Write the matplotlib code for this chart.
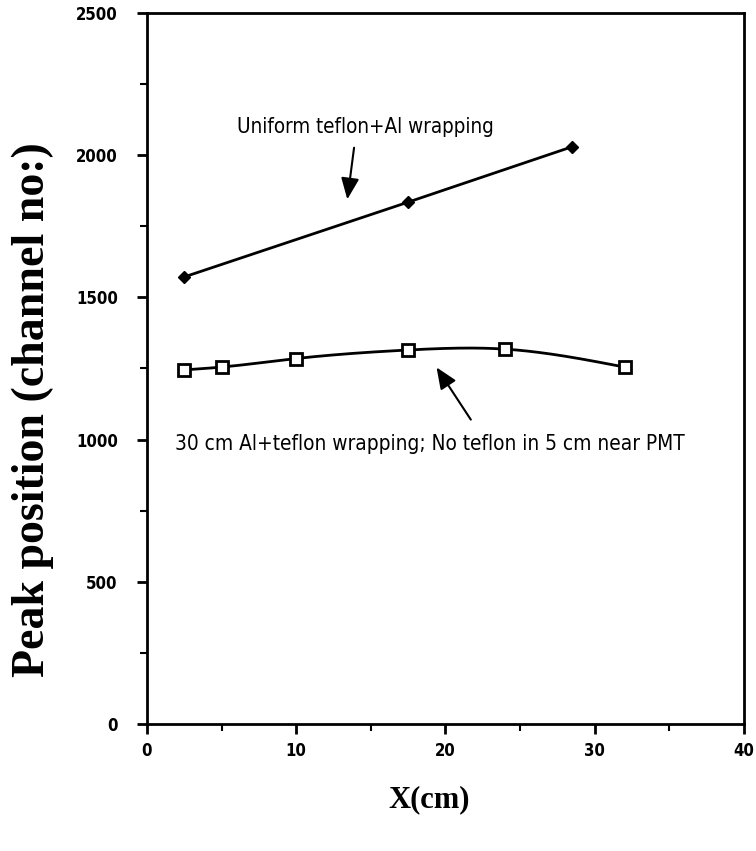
import numpy as np
import matplotlib
matplotlib.use('Agg')
import matplotlib.pyplot as plt
from matplotlib.ticker import MultipleLocator

# data
x_uniform = [2.5, 17.5, 28.5]
y_uniform = [1572, 1835, 2030]

x_partial = [2.5, 5.0, 10.0, 17.5, 24.0, 32.0]
y_partial = [1245, 1255, 1285, 1315, 1318, 1255]

label_uniform = 'Uniform teflon+Al wrapping'
label_partial = '30 cm Al+teflon wrapping; No teflon in 5 cm near PMT'


def smooth(x, y, n=200):
    # natural cubic spline, only to draw the curve the way the original does
    x = np.asarray(x, float)
    y = np.asarray(y, float)
    k = len(x)
    h = np.diff(x)
    A = np.zeros((k, k))
    b = np.zeros(k)
    A[0, 0] = A[-1, -1] = 1
    for i in range(1, k - 1):
        A[i, i - 1] = h[i - 1]
        A[i, i] = 2 * (h[i - 1] + h[i])
        A[i, i + 1] = h[i]
        b[i] = 6 * ((y[i + 1] - y[i]) / h[i] - (y[i] - y[i - 1]) / h[i - 1])
    M = np.linalg.solve(A, b)
    xs = np.linspace(x[0], x[-1], n)
    ys = np.empty_like(xs)
    for j, xv in enumerate(xs):
        i = max(min(np.searchsorted(x, xv) - 1, k - 2), 0)
        t1 = x[i + 1] - xv
        t0 = xv - x[i]
        ys[j] = (M[i] * t1**3 + M[i + 1] * t0**3) / (6 * h[i]) \
            + (y[i] / h[i] - M[i] * h[i] / 6) * t1 \
            + (y[i + 1] / h[i] - M[i + 1] * h[i] / 6) * t0
    return xs, ys


def fit_width(txt, width_px):
    # shrink/grow a text so it spans about width_px pixels
    r = fig.canvas.get_renderer()
    w = txt.get_window_extent(r).width
    txt.set_fontsize(txt.get_fontsize() * width_px / w)


serif = 'Liberation Serif'

fig = plt.figure(figsize=(7.56, 8.51), dpi=100)
ax = fig.add_axes([0.1944, 0.1493, 0.7897, 0.8354])

ax.plot(x_uniform, y_uniform, color='black', lw=2, marker='D', ms=6,
        mfc='black', mec='black')

xs, ys = smooth(x_partial, y_partial)
ax.plot(xs, ys, color='black', lw=2)
ax.plot(x_partial, y_partial, ls='none', marker='s', ms=9, mfc='white',
        mec='black', mew=2)

ax.set_xlim(0, 40)
ax.set_ylim(0, 2500)
ax.xaxis.set_major_locator(MultipleLocator(10))
ax.xaxis.set_minor_locator(MultipleLocator(5))
ax.yaxis.set_major_locator(MultipleLocator(500))
ax.yaxis.set_minor_locator(MultipleLocator(250))
ax.tick_params(which='major', direction='out', length=7, width=2)
ax.tick_params(which='minor', direction='out', length=5, width=1.5)
ax.tick_params(axis='x', pad=6)
ax.tick_params(axis='y', pad=14)
for lab in ax.get_xticklabels() + ax.get_yticklabels():
    lab.set_fontfamily('DejaVu Sans')
    lab.set_fontstretch('condensed')
    lab.set_fontweight('bold')
    lab.set_fontsize(12)
for sp in ax.spines.values():
    sp.set_linewidth(2)

ax.annotate('', xy=(13.4, 1835), xytext=(13.9, 2036),
            arrowprops=dict(arrowstyle='-|>,head_length=1.3,head_width=0.55',
                            color='black', lw=1.5))
t1 = ax.text(6.0, 2100, label_uniform, fontsize=14, family='DejaVu Sans',
             fontstretch='condensed', ha='left', va='center')

ax.annotate('', xy=(19.3, 1262), xytext=(21.8, 1062),
            arrowprops=dict(arrowstyle='-|>,head_length=1.3,head_width=0.55',
                            color='black', lw=1.5))
t2 = ax.text(1.9, 985, label_partial, fontsize=14, family='DejaVu Sans',
             fontstretch='condensed', ha='left', va='center')

fig.text(33 / 756, 1 - 410 / 851, 'Peak position (channel no:)',
         rotation=90, ha='center', va='center', fontsize=33,
         fontweight='bold', family=serif)
fig.text(429 / 756, 1 - 800 / 851, 'X(cm)', ha='center', va='center',
         fontsize=22, fontweight='bold', family=serif)

fit_width(t1, 260)
fit_width(t2, 513)

fig.savefig('out.png', dpi=100)
